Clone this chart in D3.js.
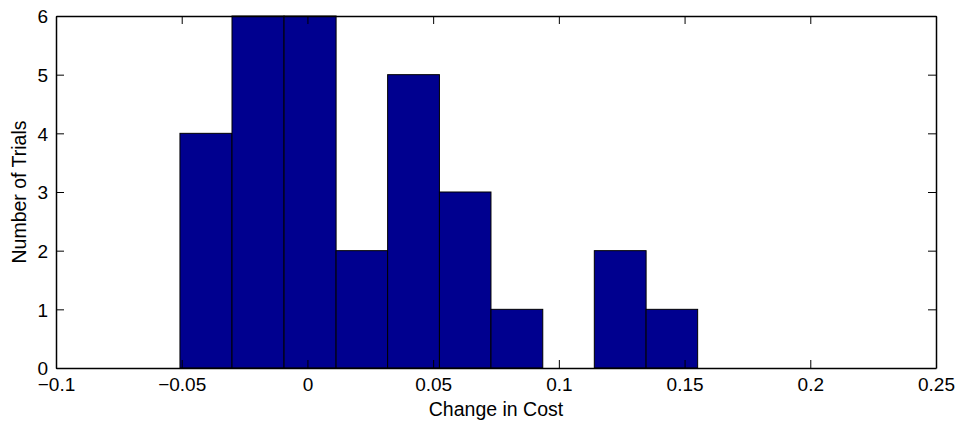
<!DOCTYPE html>
<html>
<head>
<meta charset="utf-8">
<script src="https://cdn.jsdelivr.net/npm/d3@7"></script>
<style>
  body { margin: 0; background: #fff; }
  text { font-family: "Liberation Sans", Arial, sans-serif; fill: #000; }
</style>
</head>
<body>
<div id="chart"></div>
<script>
// histogram bins (edges) and counts
var binEdges = [-0.0507, -0.0300, -0.0093, 0.0114, 0.0319, 0.0525, 0.0730, 0.0936, 0.1141, 0.1347, 0.1552];
var counts = [4, 6, 6, 2, 5, 3, 1, 0, 2, 1];
var xTicks = [-0.1, -0.05, 0, 0.05, 0.1, 0.15, 0.2, 0.25];
var xTickLabels = ["\u22120.1", "\u22120.05", "0", "0.05", "0.1", "0.15", "0.2", "0.25"];
var yTicks = [0, 1, 2, 3, 4, 5, 6];

var width = 958, height = 421;
var mLeft = 56, mRight = 936, mTop = 16, mBottom = 368;
var tickLen = 8;
var fontSize = 19;

var bars = counts.map(function (c, i) {
  return { x0: binEdges[i], x1: binEdges[i + 1], n: c };
});

var x = d3.scaleLinear().domain([-0.1, 0.25]).range([mLeft, mRight]);
var y = d3.scaleLinear().domain([0, 6]).range([mBottom, mTop]);

var svg = d3.select("#chart").append("svg")
  .attr("width", width)
  .attr("height", height);

/* bars */
svg.append("g").selectAll("rect")
  .data(bars).enter()
  .append("rect")
  .attr("x", d => x(d.x0))
  .attr("y", d => y(d.n))
  .attr("width", d => x(d.x1) - x(d.x0))
  .attr("height", d => y(0) - y(d.n))
  .attr("fill", "#00008f")
  .attr("stroke", "#000")
  .attr("stroke-width", 1);

/* axes: bottom and left with labels, top and right just ticks (box) */
var xAxis = d3.axisBottom(x).tickValues(xTicks)
  .tickFormat((d, i) => xTickLabels[i])
  .tickSizeInner(-tickLen).tickSizeOuter(0).tickPadding(10);
var yAxis = d3.axisLeft(y).tickValues(yTicks)
  .tickFormat(d3.format("d"))
  .tickSizeInner(-tickLen).tickSizeOuter(0).tickPadding(8);

var gx = svg.append("g")
  .attr("transform", `translate(0, ${mBottom})`)
  .call(xAxis);
var gy = svg.append("g")
  .attr("transform", `translate(${mLeft}, 0)`)
  .call(yAxis);

svg.append("g")
  .attr("transform", `translate(0, ${mTop})`)
  .call(d3.axisTop(x).tickValues(xTicks).tickFormat("")
    .tickSizeInner(-tickLen).tickSizeOuter(0));
svg.append("g")
  .attr("transform", `translate(${mRight}, 0)`)
  .call(d3.axisRight(y).tickValues(yTicks).tickFormat("")
    .tickSizeInner(-tickLen).tickSizeOuter(0));

svg.selectAll(".domain").attr("stroke", "#000").attr("stroke-width", 1.5);
svg.selectAll(".tick line").attr("stroke", "#000");
svg.selectAll(".tick text")
  .attr("font-size", fontSize)
  .attr("font-family", "Liberation Sans, Arial, sans-serif")
  .attr("fill", "#000");
gy.selectAll(".tick text").attr("dy", "0.36em");

/* axis labels */
svg.append("text")
  .attr("x", (mLeft + mRight) / 2)
  .attr("y", 416)
  .attr("text-anchor", "middle")
  .attr("font-size", 19.5)
  .text("Change in Cost");

svg.append("text")
  .attr("transform", `translate(26, ${(mTop + mBottom) / 2}) rotate(-90)`)
  .attr("text-anchor", "middle")
  .attr("font-size", 19.5)
  .text("Number of Trials");
</script>
</body>
</html>
